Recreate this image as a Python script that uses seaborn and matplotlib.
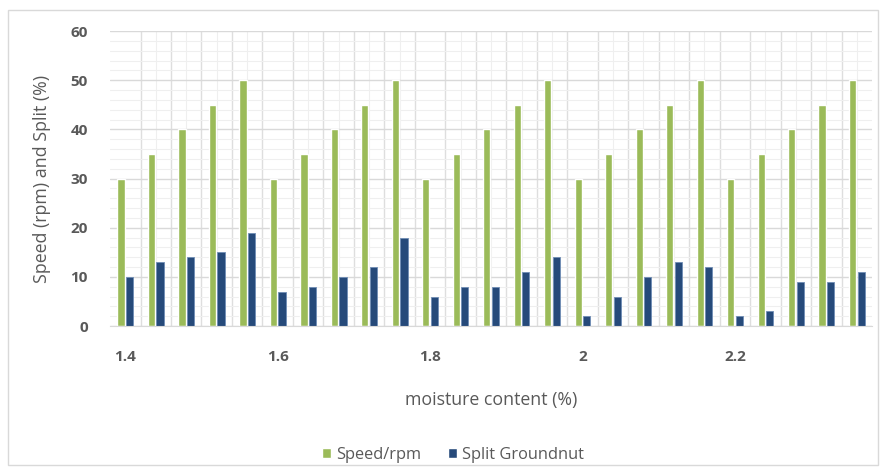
import numpy as np
import pandas as pd
import matplotlib.pyplot as plt
import seaborn as sns
from matplotlib.ticker import MultipleLocator, FixedLocator
from matplotlib.patches import Rectangle

# moisture levels (one label per block of 5 speeds)
moisture = ["1.4", "1.6", "1.8", "2", "2.2"]
speed_levels = [30, 35, 40, 45, 50]
split = [10, 13, 14, 15, 19,
         7, 8, 10, 12, 18,
         6, 8, 8, 11, 14,
         2, 6, 10, 13, 12,
         2, 3, 9, 9, 11]

speed = speed_levels * len(moisture)
n = len(speed)

df = pd.DataFrame({
    "run": list(range(n)) * 2,
    "value": speed + split,
    "series": ["Speed/rpm"] * n + ["Split Groundnut"] * n,
})

sns.set_style("white")
plt.rcParams["font.family"] = ["Open Sans", "DejaVu Sans"]

fig = plt.figure(figsize=(8.81, 4.72), dpi=100)
ax = fig.add_axes([0.1249, 0.3093, 0.865, 0.625])

ax.set_axisbelow(True)
ax.yaxis.set_major_locator(MultipleLocator(10))
ax.yaxis.set_minor_locator(MultipleLocator(2))
ax.xaxis.set_minor_locator(FixedLocator(np.arange(n)))
ax.grid(which="major", axis="y", color="#d9d9d9", lw=1.0)
ax.grid(which="minor", axis="y", color="#efefef", lw=0.8)
ax.grid(which="minor", axis="x", color="#efefef", lw=0.8)
for b in np.arange(n - 1) + 0.5:
    ax.axvline(b, color="#dedede", lw=1.0, zorder=0)

sns.barplot(data=df, x="run", y="value", hue="series", ax=ax,
            palette=["#9bbb59", "#264a7a"], width=0.56, gap=0.15,
            saturation=1)
for c in ax.containers[1]:
    c.set_edgecolor("#6f8db5")
    c.set_linewidth(0.6)

ax.set_xlim(-0.5, n - 0.5)
ax.set_ylim(0, 60)
ax.set_xticks([i * 5 for i in range(len(moisture))])
ax.set_xticklabels(moisture)
ax.tick_params(axis="x", which="both", length=0, pad=17, labelsize=11, colors="#595959")
ax.tick_params(axis="y", which="both", length=0, pad=16, labelsize=11, colors="#595959")
for lab in ax.get_yticklabels() + ax.get_xticklabels():
    lab.set_fontweight("bold")
for s in ["top", "right", "left"]:
    ax.spines[s].set_visible(False)
ax.spines["bottom"].set_color("#d9d9d9")

ax.set_xlabel("moisture content (%)", fontsize=12.8, color="#595959", labelpad=20)
ax.set_ylabel("Speed (rpm) and Split (%)", fontsize=12.8, color="#595959", labelpad=14)

ax.legend(loc="upper center", bbox_to_anchor=(0.45, -0.36), ncol=2, frameon=False,
          fontsize=11.8, handlelength=0.6, handleheight=0.6, columnspacing=1.6,
          handletextpad=0.3, labelcolor="#595959")

fig.patches.append(Rectangle((8 / 881, 7 / 472), 870 / 881, 455 / 472,
                             transform=fig.transFigure, fill=False,
                             edgecolor="#d9d9d9", lw=1.0))

fig.savefig("out.png", dpi=100)
